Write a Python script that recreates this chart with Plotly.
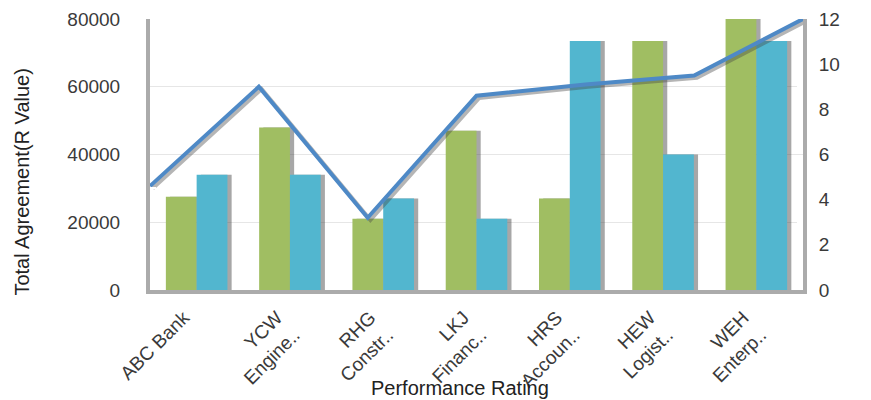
import plotly.graph_objects as go

categories = ["ABC Bank", "YCW<br>Engine..", "RHG<br>Constr..", "LKJ<br>Financ..",
              "HRS<br>Accoun..", "HEW<br>Logist..", "WEH<br>Enterp.."]
green_values = [27500, 48000, 21000, 47000, 27000, 73500, 80000]
blue_values = [34000, 34000, 27000, 21000, 73500, 40000, 73500]
line_values = [4.6, 9.0, 3.2, 8.6, 9.1, 9.5, 12.0]
line_positions = [0, 1, 2, 3, 4, 5, 6]

GREEN = "#A0BE62"
BLUE = "#52B6CF"
LINE = "#4E89C6"
SHADOW = "rgba(60,60,60,0.45)"
AXIS = "#ABABAB"
FONT = "Liberation Sans, Arial, sans-serif"
TXT = "#3A3A3A"

W = 0.33
fig = go.Figure()
# bar shadows
fig.add_trace(go.Bar(x=categories, y=green_values, width=W, offset=-W + 0.045,
                     marker=dict(color=SHADOW, line=dict(width=0)), hoverinfo="skip", showlegend=False))
fig.add_trace(go.Bar(x=categories, y=blue_values, width=W, offset=0.045,
                     marker=dict(color=SHADOW, line=dict(width=0)), hoverinfo="skip", showlegend=False))
# bars
fig.add_trace(go.Bar(x=categories, y=green_values, width=W, offset=-W,
                     marker=dict(color=GREEN, line=dict(width=0)), showlegend=False))
fig.add_trace(go.Bar(x=categories, y=blue_values, width=W, offset=0,
                     marker=dict(color=BLUE, line=dict(width=0)), showlegend=False))
# line shadow (slightly shifted right and down)
fig.add_trace(go.Scatter(x=line_positions, y=line_values, mode="lines", xaxis="x2", yaxis="y4",
                         line=dict(color="rgba(70,70,70,0.4)", width=4), hoverinfo="skip", showlegend=False))
# line
fig.add_trace(go.Scatter(x=line_positions, y=line_values, mode="lines", xaxis="x3", yaxis="y2",
                         line=dict(color=LINE, width=4), showlegend=False))

fig.update_layout(
    width=871, height=400,
    margin=dict(l=150, r=68, t=19, b=110),
    paper_bgcolor="white", plot_bgcolor="white",
    barmode="overlay",
    font=dict(family=FONT, size=19, color=TXT),
    xaxis=dict(
        type="category", showgrid=False, showline=True, linecolor=AXIS, linewidth=4,
        ticks="inside", tickson="boundaries", ticklen=6, tickwidth=4, tickcolor="white",
        tickangle=-45, tickfont=dict(size=19, color=TXT), automargin=False,
        ticklabelshift=-13, ticklabelstandoff=5,
        range=[-0.5, 6.5],
    ),
    yaxis=dict(
        range=[0, 80000], dtick=20000, tickformat="d", showgrid=True, gridcolor="#E6E6E6", gridwidth=1,
        showline=True, linecolor=AXIS, linewidth=4, zeroline=False,
        ticks="", ticklabelstandoff=22, automargin=False,
        minor=dict(dtick=10000, ticks="inside", ticklen=6, tickwidth=2, tickcolor="white", showgrid=False),
        tickfont=dict(size=19, color=TXT),
    ),
    yaxis2=dict(
        range=[0, 12], dtick=2, overlaying="y", side="right", showgrid=False, zeroline=False,
        showline=True, linecolor=AXIS, linewidth=4, ticks="", ticklabelstandoff=8, automargin=False,
        minor=dict(dtick=1, ticks="inside", ticklen=6, tickwidth=2, tickcolor="white", showgrid=False),
        tickfont=dict(size=19, color=TXT),
    ),
    yaxis4=dict(range=[0.1, 12.1], overlaying="y", visible=False),
    xaxis2=dict(range=[-0.025, 5.975], overlaying="x", visible=False, anchor="y4"),
    xaxis3=dict(range=[0, 6], overlaying="x", visible=False, anchor="y2"),
)

fig.add_annotation(text="Performance Rating", xref="paper", yref="paper",
                   x=0.474, y=-0.362, xanchor="center", yanchor="middle", showarrow=False,
                   font=dict(size=20, color="#222222"))
fig.add_annotation(text="Total Agreement(R Value)", xref="paper", yref="paper",
                   x=-0.196, y=0.40, xanchor="center", yanchor="middle", textangle=-90,
                   showarrow=False, font=dict(size=20, color="#222222"))

fig.write_html("out.html")
